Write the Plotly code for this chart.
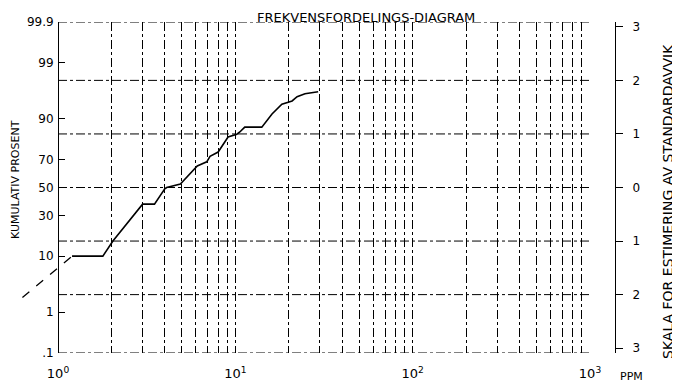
import plotly.graph_objects as go
from statistics import NormalDist

# ---- data ----
ppm_dashed = [0.63, 1.0, 1.2]
pct_dashed = [2.0, 6.8, 10.0]

ppm_values = [1.2, 1.79, 2.04, 3.0, 3.5, 4.0, 4.1, 4.9, 6.1, 6.9, 7.2, 8.0, 9.1,
              10.2, 10.6, 11.3, 14.1, 16.1, 18.3, 20.9, 22.3, 24.7, 29.3]
cum_percent = [10.0, 10.0, 15.9, 37.8, 37.8, 49.0, 50.0, 52.6, 65.6, 68.4, 72.0, 74.6, 82.7,
               84.0, 85.0, 87.0, 87.0, 91.5, 94.0, 94.7, 95.5, 96.0, 96.3]

left_tick_pct = [99.9, 99, 90, 70, 50, 30, 10, 1, 0.1]
left_tick_text = ["99.9", "99", "90", "70", "50", "30", "10", "1", ".1"]
right_tick_vals = [3, 2, 1, 0, -1, -2, -3]
right_tick_text = ["3", "2", "1", "0", "1", "2", "3"]
decades = [1, 10, 100, 1000]
decade_text = ["10<sup>0</sup>", "10<sup>1</sup>", "10<sup>2</sup>", "10<sup>3</sup>"]
hgrid_z = [-3.09, -2, -1, 0, 1, 2, 3.09]

nd = NormalDist()
z = lambda p: nd.inv_cdf(p / 100.0)

FONT = "DejaVu Sans"
OFF = 8  # page body margin
W, H = 680 - OFF, 386 - OFF
ML, MT = 10, 22 - OFF
MR = W - (630 - OFF)
MB = H - (353 - OFF)
PW = W - ML - MR
PH = H - MT - MB
px = lambda X: (X - OFF - ML) / PW
py = lambda Y: (H - MB - (Y - OFF)) / PH

xlo, xhi = -0.21, 3.0
dec_pix = (590 - 58) / 3.0
x_left_pix = 58 + xlo * dec_pix

fig = go.Figure()
fig.add_trace(go.Scatter(x=ppm_dashed, y=[z(p) for p in pct_dashed], mode="lines",
                         line=dict(color="black", width=1.3, dash="dash"),
                         showlegend=False, hoverinfo="skip"))
fig.add_trace(go.Scatter(x=ppm_values, y=[z(p) for p in cum_percent], mode="lines",
                         line=dict(color="black", width=1.6),
                         showlegend=False, hoverinfo="skip"))
fig.add_trace(go.Scatter(x=[10], y=[0], mode="none", yaxis="y2",
                         showlegend=False, hoverinfo="skip"))

gvals, gtext = [], []
for d in [1, 10, 100]:
    for m in range(1, 10):
        gvals.append(d * m)
        gtext.append(decade_text[decades.index(d)] if m == 1 else "")
gvals.append(1000)
gtext.append(decade_text[3])

fz = (0 - xlo) / (xhi - xlo)
for hz in hgrid_z:
    fig.add_shape(type="line", xref="x domain", yref="y", x0=fz, x1=1, y0=hz, y1=hz,
                  line=dict(color="black", width=1, dash="dashdot"))

fig.update_layout(
    width=W, height=H, margin=dict(l=ML, r=MR, t=MT, b=MB, autoexpand=False),
    paper_bgcolor="white", plot_bgcolor="white",
    font=dict(family=FONT, color="black", size=12),
    xaxis=dict(type="log", range=[xlo, xhi], automargin=False,
               domain=[px(x_left_pix), px(590)],
               tickvals=gvals, ticktext=gtext, ticks="",
               showgrid=True, gridcolor="black", gridwidth=1, griddash="dashdot",
               showline=False, zeroline=False, tickfont=dict(size=13),
               ticklabelstandoff=11),
    yaxis=dict(range=[-3.09, 3.09], anchor="free", position=px(58), automargin=False,
               tickvals=[z(p) for p in left_tick_pct], ticktext=left_tick_text,
               ticks="inside", ticklen=6, tickcolor="black",
               showline=True, linecolor="black", linewidth=1,
               showgrid=False, zeroline=False, tickfont=dict(size=12),
               ticklabelstandoff=2),
    yaxis2=dict(range=[-3.09, 3.09], overlaying="y", anchor="free", position=px(615),
                side="right", tickvals=right_tick_vals, ticktext=right_tick_text,
                ticks="outside", ticklen=7, tickcolor="black", automargin=False,
                showline=True, linecolor="black", linewidth=1,
                showgrid=False, zeroline=False, tickfont=dict(size=12),
                ticklabelstandoff=7),
)

fig.add_annotation(text="FREKVENSFORDELINGS-DIAGRAM", xref="paper", yref="paper",
                   x=px(366), y=py(17), xanchor="center", yanchor="middle",
                   showarrow=False, font=dict(size=13))
fig.add_annotation(text="KUMULATIV PROSENT", xref="paper", yref="paper",
                   x=px(15), y=py(180), xanchor="center", yanchor="middle",
                   showarrow=False, textangle=-90, font=dict(size=11))
fig.add_annotation(text="SKALA FOR ESTIMERING AV STANDARDAVVIK", xref="paper", yref="paper",
                   x=px(668), y=py(202), xanchor="center", yanchor="middle",
                   showarrow=False, textangle=-90, font=dict(size=14))
fig.add_annotation(text="PPM", xref="paper", yref="paper",
                   x=px(631), y=py(376), xanchor="center", yanchor="middle",
                   showarrow=False, font=dict(size=11))

fig.write_html("out.html")
